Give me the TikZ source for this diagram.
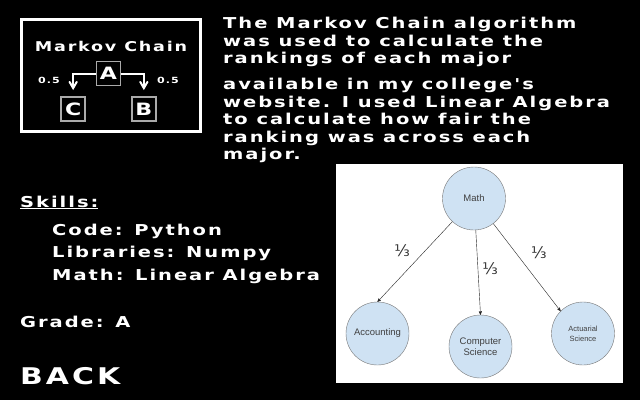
\documentclass[tikz,border=0pt]{standalone}
\usepackage{fontspec}
\usepackage{tikz}
\usetikzlibrary{arrows}
\usetikzlibrary{positioning}
\newfontfamily\pixelfont{DejaVu Sans}[FakeStretch=1.3,LetterSpace=13.0]
\newfontfamily\chartfont{Liberation Sans}
\newfontfamily\fracfont{DejaVu Sans}
\definecolor{bubble}{RGB}{207,226,243}
\definecolor{rim}{RGB}{120,120,120}
\definecolor{boxgray}{RGB}{170,170,170}

\begin{document}
\begin{tikzpicture}[-,x=1pt,y=-1pt,node distance=50pt,
    pixel/.style={text=white,inner sep=0pt,
        font=\pixelfont\bfseries\fontsize{15}{17.5}\selectfont},
    state box/.style={draw=boxgray,line width=1.5pt,minimum size=24pt,
        inner sep=0pt,text=white,
        font=\pixelfont\bfseries\fontsize{17}{17}\selectfont},
    major node/.style={circle,fill=bubble,draw=rim,minimum size=63pt,
        inner sep=0pt,align=center,text=black!75,
        font=\chartfont\fontsize{9.5}{11.5}\selectfont}]

  % backdrop
  \fill[black] (0,0) rectangle (640,400);

  % markov chain badge
  \draw[white,line width=3pt] (21.5,19) rectangle (200,131);
  \node[pixel,font=\pixelfont\bfseries\fontsize{13.5}{14}\selectfont] (title) at (111,46) {Markov Chain};
  \node[state box] (A) at (108.5,73.5) {A};
  \node[state box] (C) [below left of=A] {C};
  \node[state box] (B) [below right of=A] {B};
  \draw[->,>=angle 60,white,line width=2pt,shorten >=6pt] (A.west) -| (C.north);
  \draw[->,>=angle 60,white,line width=2pt,shorten >=6pt] (A.east) -| (B.north);
  \node[pixel,font=\pixelfont\bfseries\fontsize{8.5}{9}\selectfont] (pl) at (49,80) {0.5};
  \node[pixel,font=\pixelfont\bfseries\fontsize{8.5}{9}\selectfont] (pr) at (168,80) {0.5};

  % description
  \node[pixel,anchor=north west,align=left] (about) at (223,17)
    {The Markov Chain algorithm\\was used to calculate the\\rankings of each major};
  \node[pixel,anchor=north west,align=left] (more) at (223,78)
    {available in my college's\\website. I used Linear Algebra\\to calculate how fair the\\ranking was across each\\major.};

  % skills
  \node[pixel,anchor=base west] (skills) at (20,207) {\underline{Skills:}};
  \node[pixel,anchor=base west] (code) at (52,235) {Code: Python};
  \node[pixel,anchor=base west] (libs) at (52,257.5) {Libraries: Numpy};
  \node[pixel,anchor=base west] (mathskill) at (52,280) {Math: Linear Algebra};
  \node[pixel,anchor=base west] (grade) at (20,327) {Grade: A};
  \node[pixel,anchor=base west,font=\pixelfont\bfseries\fontsize{23}{23}\selectfont] (back) at (20,384) {BACK};

  % ranking graph
  \fill[white] (336,164) rectangle (623,383);
  \node[major node] (math) at (474,198.5) {Math};
  \node[major node] (acc) at (377.5,333.5) {Accounting};
  \node[major node] (cs) at (480.5,346.5) {Computer\\Science};
  \node[major node,font=\chartfont\fontsize{7.5}{10}\selectfont] (act) at (583,333.5) {Actuarial\\Science};
  \path[->,>=stealth',black!85,thin,every node/.style={font=\fracfont\fontsize{16}{16}\selectfont,
      text=black!80}]
    (math) edge node[pos=0.36,left=12pt] {⅓} (acc.north)
    (math) edge node[pos=0.45,right=1pt] {⅓} (cs.north)
    (math) edge node[pos=0.33,right=12pt] {⅓} (act.135);
\end{tikzpicture}
\end{document}
